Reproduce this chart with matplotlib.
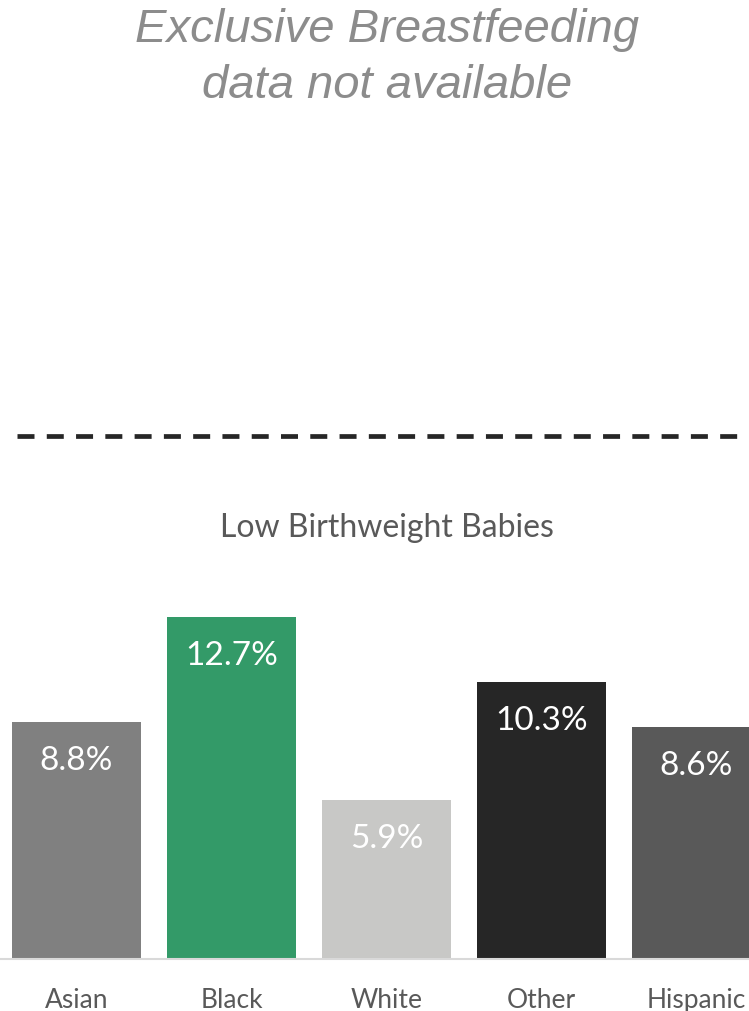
import matplotlib.pyplot as plt

# data
groups = ['Asian', 'Black', 'White', 'Other', 'Hispanic']
low_bw = [8.8, 12.7, 5.9, 10.3, 8.6]
bar_colors = ['#808080', '#339a68', '#c8c8c6', '#262626', '#595959']

W, H = 749, 1012
fig = plt.figure(figsize=(W / 100, H / 100), dpi=100)

# top note
fig.text(387 / W, 1 - 30 / H, 'Exclusive Breastfeeding', ha='center', va='center',
         fontsize=34, style='italic', color='#8c8c8c', family='Liberation Sans')
fig.text(387 / W, 1 - 86 / H, 'data not available', ha='center', va='center',
         fontsize=34, style='italic', color='#8c8c8c', family='Liberation Sans')

# dashed separator
fig.add_artist(plt.Line2D([17 / W, 1], [1 - 437 / H] * 2, transform=fig.transFigure,
                          color='#262626', lw=3.4, solid_capstyle='butt',
                          dash_capstyle='butt', linestyle=(0, (3.6, 2.6))))

# bar chart
bottom_px, top_px = 960, 583
ax = fig.add_axes([0, (H - bottom_px) / H, 1, (bottom_px - top_px) / H])
x = list(range(len(groups)))
bars = ax.bar(x, low_bw, width=0.835, color=bar_colors, clip_on=True)
ax.set_xlim(-76.5 / 155, (W - 76.5) / 155)
ax.set_ylim(0, 14)

for b, v in zip(bars, low_bw):
    ax.annotate(f'{v}%', (b.get_x() + b.get_width() / 2, v), xytext=(0, -38),
                textcoords='offset pixels', ha='center', va='center',
                color='white', fontsize=24, family='Lato')

for s in ['top', 'left', 'right']:
    ax.spines[s].set_visible(False)
ax.spines['bottom'].set_color('#d9d9d9')
ax.spines['bottom'].set_linewidth(1.5)
ax.set_yticks([])
ax.set_xticks(x)
ax.set_xticklabels(groups, fontsize=19, color='#595959', family='Lato')
ax.tick_params(axis='x', length=0, pad=20)

fig.text(387 / W, 1 - 528 / H, 'Low Birthweight Babies', ha='center', va='center',
         fontsize=23, color='#595959', family='Lato')

fig.savefig('out.png', dpi=100)
